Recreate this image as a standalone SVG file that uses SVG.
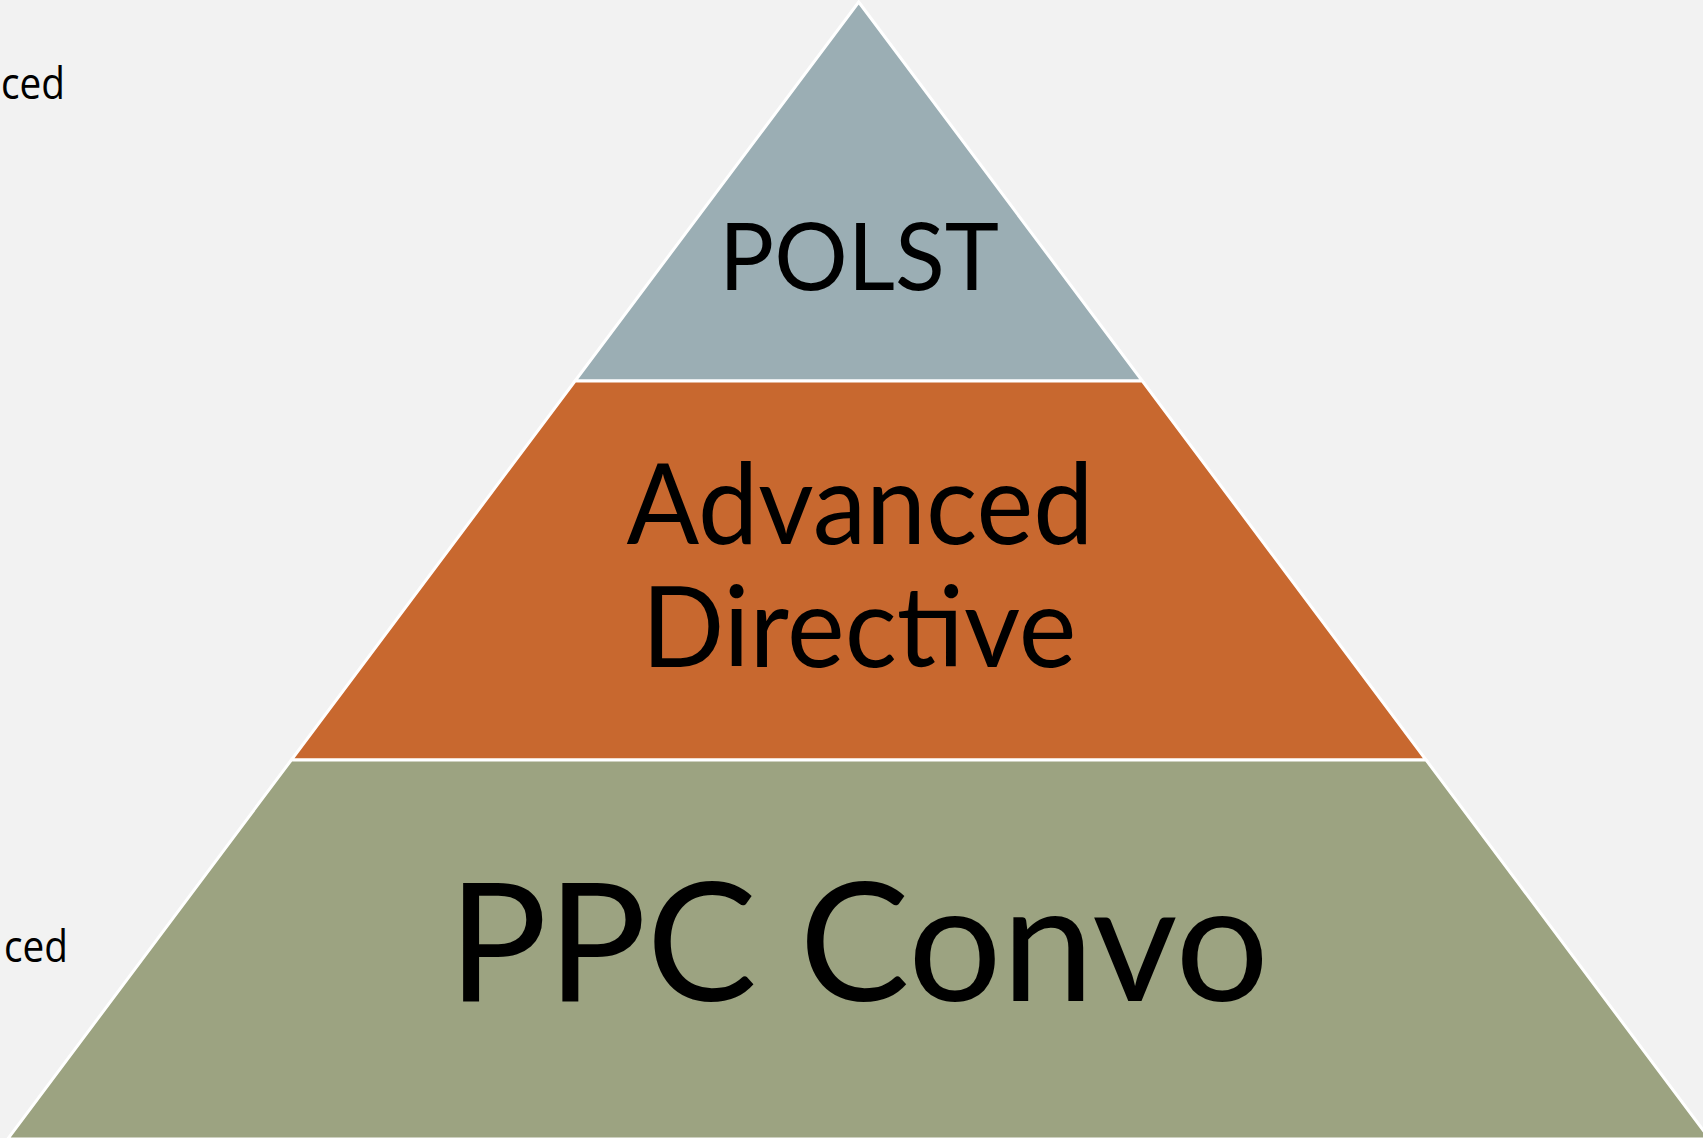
<svg xmlns="http://www.w3.org/2000/svg" width="1703" height="1138" viewBox="0 0 1703 1138">
<style>
.seg{stroke:#ffffff;stroke-width:3;stroke-linejoin:miter}
.lbl{font-family:Lato,"Open Sans","Liberation Sans",sans-serif;fill:#000000;text-anchor:middle}
.side{font-family:"Open Sans","Noto Sans","Liberation Sans",sans-serif;font-size:44px;fill:#000000}
</style>
<rect x="0" y="0" width="1703" height="1138" fill="#F2F2F2"/>
<g id="side-labels">
<text class="side" x="1" y="99" textLength="64" lengthAdjust="spacingAndGlyphs">ced</text>
<text class="side" x="4" y="962" textLength="64" lengthAdjust="spacingAndGlyphs">ced</text>
</g>
<g id="node-polst">
<polygon class="seg" fill="#9BAEB4" points="858.7,2 1142.4,381 575,381"/>
<text class="lbl" x="859" y="290" font-size="93.5" textLength="280" lengthAdjust="spacingAndGlyphs">POLST</text>
</g>
<g id="node-advanced-directive">
<polygon class="seg" fill="#C8682F" points="575,381 1142.4,381 1426.1,760 291.3,760"/>
<text class="lbl" x="860" y="544" font-size="112" textLength="467" lengthAdjust="spacingAndGlyphs">Advanced</text>
<text class="lbl" x="859" y="667" font-size="112" textLength="435" lengthAdjust="spacingAndGlyphs">Directive</text>
</g>
<g id="node-ppc-convo">
<polygon class="seg" fill="#9CA381" points="291.3,760 1426.1,760 1709.7,1139 7.7,1139"/>
<text class="lbl" x="858.5" y="1001" font-size="165" textLength="821" lengthAdjust="spacingAndGlyphs">PPC Convo</text>
</g>
<g id="connectors"/>
</svg>
